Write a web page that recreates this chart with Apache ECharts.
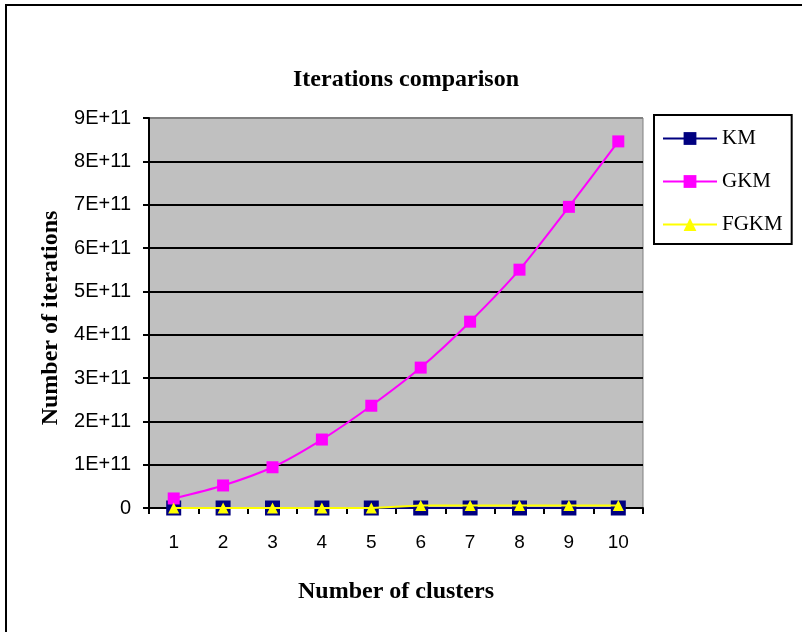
<!DOCTYPE html>
<html>
<head>
<meta charset="utf-8">
<script src="https://cdn.jsdelivr.net/npm/echarts@6/dist/echarts.min.js"></script>
<style>
  html, body { margin: 0; padding: 0; background: #ffffff; }
  #chart { width: 802px; height: 632px; }
</style>
</head>
<body>
<div id="chart"></div>
<script>
// Number of clusters on the x axis
const clusters = ['1', '2', '3', '4', '5', '6', '7', '8', '9', '10'];

// Iteration counts per algorithm
const kmValues = [0, 0, 0, 0, 0, 0, 0, 0, 0, 0];
const gkmValues = [2.2e10, 5.2e10, 9.4e10, 1.58e11, 2.36e11, 3.24e11, 4.3e11, 5.5e11, 6.95e11, 8.46e11];
const fgkmValues = [0, 0, 0, 0, 0, 6e9, 6e9, 6e9, 6e9, 6e9];

const seriesNames = ['KM', 'GKM', 'FGKM'];
const yTickMax = 9e11;
const yTickStep = 1e11;

const serif = '"Liberation Serif", "Times New Roman", serif';
const sans = '"Liberation Sans", Arial, sans-serif';

const chart = echarts.init(document.getElementById('chart'));

// top gridline doubles as the plot frame, drawn grey
const splitColors = [];
for (let i = 0; i < 10; i++) splitColors.push(i === 9 ? '#808080' : '#000000');

chart.setOption({
  backgroundColor: '#ffffff',
  animation: false,
  title: {
    text: 'Iterations comparison',
    left: 401,
    top: 63,
    textAlign: 'center',
    textStyle: { fontFamily: serif, fontSize: 24, fontWeight: 'bold', color: '#000' }
  },
  graphic: [{
    type: 'rect',
    shape: { x: 6, y: 5, width: 820, height: 660 },
    style: { fill: 'none', stroke: '#000', lineWidth: 2 },
    z: -1
  }],
  legend: {
    orient: 'vertical',
    left: 654,
    top: 115,
    padding: [13, 9, 9, 8],
    itemGap: 22,
    itemWidth: 54,
    itemHeight: 16,
    borderColor: '#000',
    borderWidth: 2,
    backgroundColor: '#ffffff',
    textStyle: { fontFamily: serif, fontSize: 21, color: '#000' },
    data: seriesNames
  },
  grid: {
    left: 149,
    top: 118,
    right: 159,
    bottom: 124,
    show: true,
    backgroundColor: '#c0c0c0',
    borderColor: '#808080',
    borderWidth: 1
  },
  xAxis: {
    type: 'category',
    data: clusters,
    boundaryGap: true,
    name: 'Number of clusters',
    nameLocation: 'middle',
    nameGap: 72,
    nameTextStyle: { fontFamily: serif, fontSize: 24, fontWeight: 'bold', color: '#000' },
    axisLine: { lineStyle: { color: '#000', width: 2 } },
    axisTick: { show: true, length: 6, lineStyle: { color: '#000', width: 2 } },
    axisLabel: { fontFamily: sans, fontSize: 19, color: '#000', margin: 25 }
  },
  yAxis: {
    type: 'value',
    min: 0,
    max: yTickMax,
    interval: yTickStep,
    name: 'Number of iterations',
    nameLocation: 'middle',
    nameGap: 84,
    nameRotate: 90,
    nameTextStyle: { fontFamily: serif, fontSize: 24, fontWeight: 'bold', color: '#000', padding: [0, 10, 0, 0] },
    axisLine: { show: true, lineStyle: { color: '#000', width: 2 } },
    axisTick: { show: true, length: 6, lineStyle: { color: '#000', width: 2 } },
    axisLabel: {
      fontFamily: sans, fontSize: 20, color: '#000', margin: 18,
      formatter: function (v) { return v === 0 ? '0' : Math.round(v / 1e11) + 'E+11'; }
    },
    splitLine: { show: true, lineStyle: { color: splitColors, width: 2 } }
  },
  series: [
    {
      name: 'KM',
      type: 'line',
      data: kmValues,
      symbol: 'rect',
      symbolSize: 15,
      itemStyle: { color: '#000080' },
      lineStyle: { color: '#000080', width: 2 },
      z: 2
    },
    {
      name: 'GKM',
      type: 'line',
      data: gkmValues,
      smooth: 0.25,
      symbol: 'rect',
      symbolSize: 12,
      itemStyle: { color: '#ff00ff' },
      lineStyle: { color: '#ff00ff', width: 2 },
      z: 3
    },
    {
      name: 'FGKM',
      type: 'line',
      data: fgkmValues,
      symbol: 'triangle',
      symbolSize: 11,
      itemStyle: { color: '#ffff00' },
      lineStyle: { color: '#ffff00', width: 2 },
      z: 4
    }
  ]
});
</script>
</body>
</html>
